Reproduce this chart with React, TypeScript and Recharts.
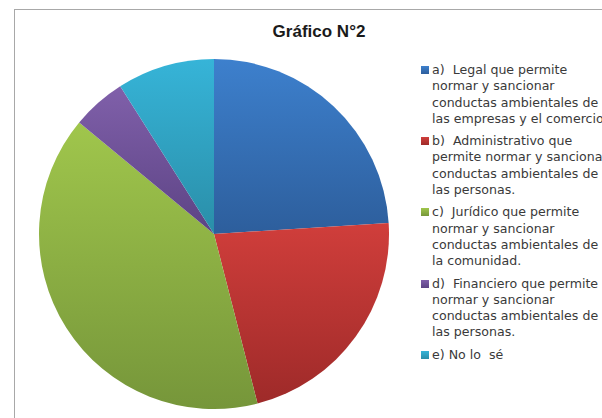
import React from 'react';
import { PieChart, Pie, Cell, Legend } from 'recharts';

const labels = [
  'a)  Legal que permite\nnormar y sancionar\nconductas ambientales de\nlas empresas y el comercio',
  'b)  Administrativo que\npermite normar y sancionar\nconductas ambientales de\nlas personas.',
  'c)  Jurídico que permite\nnormar y sancionar\nconductas ambientales de\nla comunidad.',
  'd)  Financiero que permite\nnormar y sancionar\nconductas ambientales de\nlas personas.',
  'e) No lo  sé',
];
const values = [24, 22, 40, 5, 9];
const topColors = ['#3d80cd', '#d03e3b', '#a0c64c', '#8060aa', '#36b4d8'];
const bottomColors = ['#2d5e9c', '#9e2a29', '#76963a', '#5c4384', '#2a8ea8'];

const data = labels.map((name, i) => ({ name, value: values[i] }));

const renderLegend = () => (
  <div style={{ fontFamily: '"DejaVu Sans", sans-serif', fontSize: 12.6, lineHeight: '16.3px', color: '#3a3a3a' }}>
    {labels.map((label, i) => (
      <div key={i} style={{ position: 'relative', paddingLeft: 13, marginBottom: 6, whiteSpace: 'pre' }}>
        <span
          style={{
            position: 'absolute', left: 2, top: 4, width: 8, height: 8,
            background: `linear-gradient(${topColors[i]}, ${bottomColors[i]})`,
          }}
        />
        {label}
      </div>
    ))}
  </div>
);

export default function App() {
  return (
    <div style={{ position: 'absolute', left: 0, top: 0, width: 602, height: 418, overflow: 'hidden', background: '#fff' }}>
      <div style={{ position: 'absolute', left: 14, top: 9, width: 640, height: 440, border: '1.5px solid #a8a8a8', boxSizing: 'border-box' }} />
      <div
        style={{
          position: 'absolute', left: 219, top: 22, width: 200, textAlign: 'center',
          fontFamily: '"Liberation Sans", Arial, sans-serif', fontWeight: 'bold', fontSize: 17, color: '#1a1a1a',
        }}
      >
        Gráfico N°2
      </div>
      <PieChart width={602} height={418} style={{ position: 'absolute', left: 0, top: 0 }}>
        <defs>
          {topColors.map((c, i) => (
            <linearGradient key={i} id={`grad${i}`} x1="0" y1="0" x2="0" y2="1">
              <stop offset="0%" stopColor={c} />
              <stop offset="100%" stopColor={bottomColors[i]} />
            </linearGradient>
          ))}
        </defs>
        <Pie
          data={data}
          dataKey="value"
          nameKey="name"
          cx={209}
          cy={229}
          outerRadius={175}
          startAngle={90}
          endAngle={-270}
          stroke="none"
          isAnimationActive={false}
        >
          {data.map((d, i) => (
            <Cell key={i} fill={`url(#grad${i})`} />
          ))}
        </Pie>
        <Legend
          content={renderLegend}
          layout="vertical"
          wrapperStyle={{ position: 'absolute', left: 419, top: 62, width: 260, height: 'auto' }}
        />
      </PieChart>
    </div>
  );
}
